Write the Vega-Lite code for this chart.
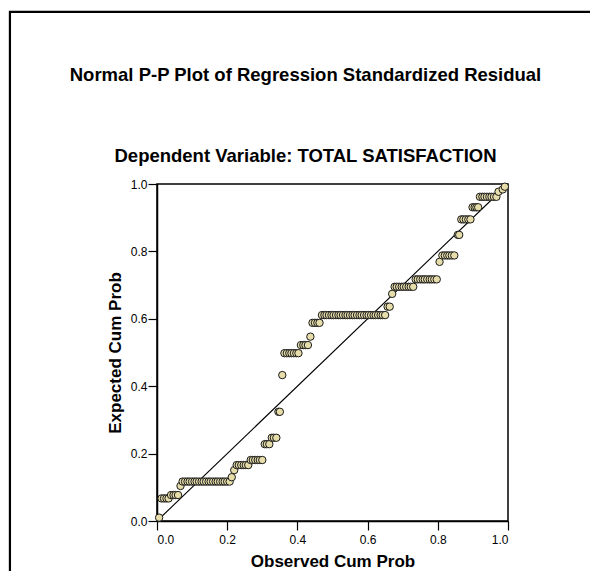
{
  "$schema": "https://vega.github.io/schema/vega-lite/v6.json",
  "width": 351,
  "height": 337,
  "autosize": {"type": "none"},
  "padding": {"left": 157, "top": 184, "right": 82, "bottom": 50},
  "background": "white",
  "config": {
    "font": "Liberation Sans",
    "view": {"stroke": "black", "strokeWidth": 1.5},
    "axis": {"grid": false, "domainColor": "black", "domainWidth": 1.5, "tickColor": "black", "tickWidth": 1.2, "tickSize": 9, "labelColor": "black", "labelFontSize": 12, "titleFontSize": 17, "titleFontWeight": "bold", "titleColor": "black"}
  },
  "title": {
    "text": "Normal P-P Plot of Regression Standardized Residual",
    "subtitle": "Dependent Variable: TOTAL SATISFACTION",
    "frame": "group",
    "fontSize": 18.5,
    "fontWeight": "bold",
    "subtitleFontSize": 18.5,
    "subtitleFontWeight": "bold",
    "subtitleColor": "black",
    "color": "black",
    "anchor": "middle",
    "dx": -27,
    "offset": -155,
    "subtitlePadding": 63
  },
  "layer": [
    {
      "data": {"values": [{"k": 1}]},
      "mark": {"type": "rect", "fill": null, "stroke": "black", "strokeWidth": 2.2, "clip": false},
      "encoding": {
        "x": {"datum": -0.419, "type": "quantitative", "scale": {"domain": [0, 1]}},
        "x2": {"datum": 1.3},
        "y": {"datum": 1.511, "type": "quantitative", "scale": {"domain": [0, 1]}},
        "y2": {"datum": -0.2}
      }
    },
    {
      "data": {"values": [{"obs": 0, "exp": 0}, {"obs": 1, "exp": 1}]},
      "mark": {"type": "line", "color": "black", "strokeWidth": 1.1},
      "encoding": {
        "x": {"field": "obs", "type": "quantitative", "scale": {"domain": [0, 1]}},
        "y": {"field": "exp", "type": "quantitative", "scale": {"domain": [0, 1]}}
      }
    },
    {
      "data": {"values": [
        {"obs":0.006,"exp":0.010},
        {"obs":0.013,"exp":0.067},{"obs":0.020,"exp":0.067},{"obs":0.027,"exp":0.067},{"obs":0.033,"exp":0.067},
        {"obs":0.040,"exp":0.077},{"obs":0.047,"exp":0.077},{"obs":0.053,"exp":0.077},{"obs":0.060,"exp":0.077},
        {"obs":0.067,"exp":0.104},
        {"obs":0.073,"exp":0.117},{"obs":0.080,"exp":0.117},{"obs":0.087,"exp":0.117},{"obs":0.093,"exp":0.117},{"obs":0.100,"exp":0.117},{"obs":0.107,"exp":0.117},{"obs":0.113,"exp":0.117},{"obs":0.120,"exp":0.117},{"obs":0.127,"exp":0.117},{"obs":0.133,"exp":0.117},{"obs":0.140,"exp":0.117},{"obs":0.147,"exp":0.117},{"obs":0.153,"exp":0.117},{"obs":0.160,"exp":0.117},{"obs":0.167,"exp":0.117},{"obs":0.173,"exp":0.117},{"obs":0.180,"exp":0.117},{"obs":0.187,"exp":0.117},{"obs":0.193,"exp":0.117},{"obs":0.200,"exp":0.117},{"obs":0.207,"exp":0.117},
        {"obs":0.213,"exp":0.130},
        {"obs":0.220,"exp":0.151},
        {"obs":0.227,"exp":0.166},{"obs":0.233,"exp":0.166},{"obs":0.240,"exp":0.166},{"obs":0.247,"exp":0.166},{"obs":0.253,"exp":0.166},{"obs":0.260,"exp":0.166},
        {"obs":0.267,"exp":0.181},{"obs":0.273,"exp":0.181},{"obs":0.280,"exp":0.181},{"obs":0.287,"exp":0.181},{"obs":0.293,"exp":0.181},{"obs":0.300,"exp":0.181},
        {"obs":0.307,"exp":0.228},{"obs":0.313,"exp":0.228},{"obs":0.320,"exp":0.228},
        {"obs":0.327,"exp":0.247},{"obs":0.333,"exp":0.247},{"obs":0.340,"exp":0.247},
        {"obs":0.346,"exp":0.324},{"obs":0.350,"exp":0.324},
        {"obs":0.357,"exp":0.433},
        {"obs":0.363,"exp":0.498},{"obs":0.370,"exp":0.498},{"obs":0.377,"exp":0.498},{"obs":0.383,"exp":0.498},{"obs":0.390,"exp":0.498},{"obs":0.397,"exp":0.498},{"obs":0.403,"exp":0.498},
        {"obs":0.410,"exp":0.522},{"obs":0.417,"exp":0.522},{"obs":0.423,"exp":0.522},{"obs":0.430,"exp":0.522},
        {"obs":0.437,"exp":0.547},
        {"obs":0.443,"exp":0.588},{"obs":0.450,"exp":0.588},{"obs":0.457,"exp":0.588},{"obs":0.463,"exp":0.588},
        {"obs":0.470,"exp":0.611},{"obs":0.477,"exp":0.611},{"obs":0.483,"exp":0.611},{"obs":0.490,"exp":0.611},{"obs":0.497,"exp":0.611},{"obs":0.503,"exp":0.611},{"obs":0.510,"exp":0.611},{"obs":0.517,"exp":0.611},{"obs":0.523,"exp":0.611},{"obs":0.530,"exp":0.611},{"obs":0.537,"exp":0.611},{"obs":0.543,"exp":0.611},{"obs":0.550,"exp":0.611},{"obs":0.557,"exp":0.611},{"obs":0.563,"exp":0.611},{"obs":0.570,"exp":0.611},{"obs":0.577,"exp":0.611},{"obs":0.583,"exp":0.611},{"obs":0.590,"exp":0.611},{"obs":0.597,"exp":0.611},{"obs":0.603,"exp":0.611},{"obs":0.610,"exp":0.611},{"obs":0.617,"exp":0.611},{"obs":0.623,"exp":0.611},{"obs":0.630,"exp":0.611},{"obs":0.637,"exp":0.611},{"obs":0.643,"exp":0.611},{"obs":0.650,"exp":0.611},
        {"obs":0.657,"exp":0.636},{"obs":0.663,"exp":0.636},
        {"obs":0.670,"exp":0.674},
        {"obs":0.677,"exp":0.695},{"obs":0.683,"exp":0.695},{"obs":0.690,"exp":0.695},{"obs":0.697,"exp":0.695},{"obs":0.703,"exp":0.695},{"obs":0.710,"exp":0.695},{"obs":0.717,"exp":0.695},{"obs":0.723,"exp":0.695},{"obs":0.730,"exp":0.695},
        {"obs":0.737,"exp":0.717},{"obs":0.743,"exp":0.717},{"obs":0.750,"exp":0.717},{"obs":0.757,"exp":0.717},{"obs":0.763,"exp":0.717},{"obs":0.770,"exp":0.717},{"obs":0.777,"exp":0.717},{"obs":0.783,"exp":0.717},{"obs":0.790,"exp":0.717},{"obs":0.797,"exp":0.717},
        {"obs":0.805,"exp":0.769},
        {"obs":0.813,"exp":0.788},{"obs":0.820,"exp":0.788},{"obs":0.827,"exp":0.788},{"obs":0.833,"exp":0.788},{"obs":0.840,"exp":0.788},{"obs":0.847,"exp":0.788},
        {"obs":0.857,"exp":0.849},{"obs":0.861,"exp":0.849},
        {"obs":0.867,"exp":0.895},{"obs":0.873,"exp":0.895},{"obs":0.880,"exp":0.895},{"obs":0.887,"exp":0.895},{"obs":0.893,"exp":0.895},
        {"obs":0.899,"exp":0.931},{"obs":0.905,"exp":0.931},{"obs":0.910,"exp":0.931},{"obs":0.915,"exp":0.931},
        {"obs":0.920,"exp":0.962},{"obs":0.927,"exp":0.962},{"obs":0.933,"exp":0.962},{"obs":0.940,"exp":0.962},{"obs":0.947,"exp":0.962},{"obs":0.953,"exp":0.962},{"obs":0.960,"exp":0.962},{"obs":0.967,"exp":0.962},
        {"obs":0.973,"exp":0.977},{"obs":0.985,"exp":0.984},{"obs":0.991,"exp":0.992}
      ]},
      "mark": {"type": "circle", "size": 55, "fill": "#e6ddaa", "stroke": "#1a1a1a", "strokeWidth": 1, "opacity": 1, "clip": false},
      "encoding": {
        "x": {"field": "obs", "type": "quantitative", "scale": {"domain": [0, 1]}, "axis": {"title": "Observed Cum Prob", "values": [0, 0.2, 0.4, 0.6, 0.8, 1], "format": ".1f", "labelPadding": 4, "titlePadding": 8}},
        "y": {"field": "exp", "type": "quantitative", "scale": {"domain": [0, 1]}, "axis": {"title": "Expected Cum Prob", "values": [0, 0.2, 0.4, 0.6, 0.8, 1], "format": ".1f", "labelPadding": 1, "titlePadding": 6}}
      }
    }
  ]
}
